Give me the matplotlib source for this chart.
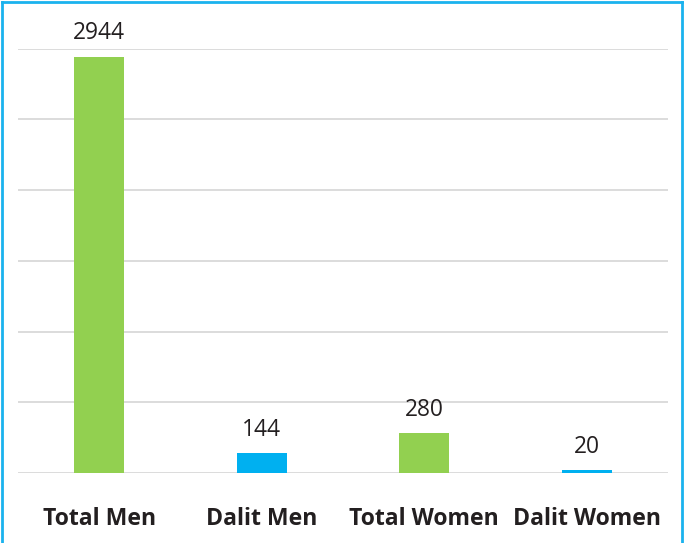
import matplotlib
matplotlib.use("Agg")
import matplotlib.pyplot as plt
from matplotlib.lines import Line2D

categories = ["Total Men", "Dalit Men", "Total Women", "Dalit Women"]
values = [2944, 144, 280, 20]
colors = ["#92D050", "#00B0F0", "#92D050", "#00B0F0"]

W, H = 684, 543
fig = plt.figure(figsize=(W / 100, H / 100), dpi=100)
ax = fig.add_axes([18 / W, (H - 473) / H, 650 / W, 424.4 / H])

x = list(range(len(categories)))
bars = ax.bar(x, values, width=0.31, color=colors, zorder=3)
ax.set_xlim(-0.5, len(categories) - 0.5)
ax.set_ylim(0, 3000)
ax.set_yticks(range(0, 3001, 500))
ax.yaxis.grid(True, color="#D9D9D9", linewidth=1.3, zorder=0)
ax.tick_params(axis="y", left=False, labelleft=False)
ax.tick_params(axis="x", bottom=False, pad=21)
ax.set_xticks(x)
ax.set_xticklabels(categories, fontfamily="Open Sans", fontweight="bold",
                   fontsize=16.6, color="#231F20")
for s in ax.spines.values():
    s.set_visible(False)

for b, v in zip(bars, values):
    ax.annotate(str(v), (b.get_x() + b.get_width() / 2, v), xytext=(0, 8),
                textcoords="offset points", ha="center", va="bottom",
                fontfamily="Open Sans", fontsize=16.4, color="#231F20")

bc = "#1AB2EE"
fig.add_artist(Line2D([2 / W, 2 / W], [0, 1 - 1.5 / H], transform=fig.transFigure, color=bc, lw=2))
fig.add_artist(Line2D([2 / W, 682 / W], [1 - 1.5 / H, 1 - 1.5 / H], transform=fig.transFigure, color=bc, lw=2))
fig.add_artist(Line2D([682 / W, 682 / W], [0, 1 - 1.5 / H], transform=fig.transFigure, color=bc, lw=2))

fig.savefig("out.png", dpi=100)
